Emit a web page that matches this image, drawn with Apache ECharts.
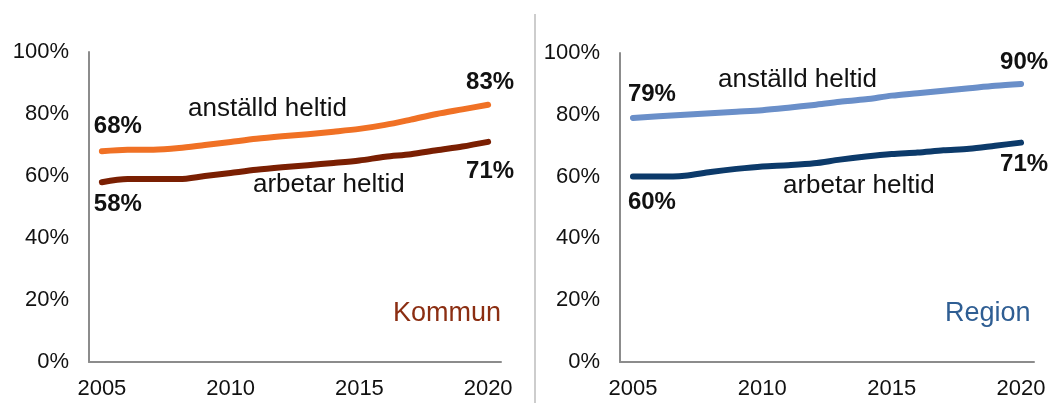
<!DOCTYPE html>
<html>
<head>
<meta charset="utf-8">
<script src="https://cdn.jsdelivr.net/npm/echarts@6/dist/echarts.min.js"></script>
<style>
  html, body { margin: 0; padding: 0; background: #fff; }
  #chart { width: 1058px; height: 403px; }
</style>
</head>
<body>
<div id="chart"></div>
<script>
// Years on the x axis
const years = ['2005','2006','2007','2008','2009','2010','2011','2012','2013','2014','2015','2016','2017','2018','2019','2020'];

// Kommun: share employed full time / working full time (%)
const kommunAnstalld = [68, 68.5, 68.5, 69, 70, 71, 72, 72.8, 73.5, 74.3, 75.2, 76.5, 78.2, 80, 81.5, 83];
const kommunArbetar  = [58, 59, 59, 59, 60, 61, 62, 62.8, 63.5, 64.2, 65, 66.2, 67, 68.3, 69.5, 71];

// Region: share employed full time / working full time (%)
const regionAnstalld = [79, 79.5, 80, 80.5, 81, 81.5, 82.3, 83.2, 84.2, 85, 86.2, 87, 87.8, 88.6, 89.4, 90];
const regionArbetar  = [60, 60, 60.3, 61.5, 62.5, 63.3, 63.7, 64.3, 65.5, 66.5, 67.3, 67.8, 68.5, 69, 70, 71];

const FONT = '"Liberation Sans", Arial, sans-serif';

// Label only the first and last point of a series, each with its own offset
function withEndLabels(values, firstOffset, lastOffset) {
  return values.map((v, i) => {
    if (i === 0 || i === values.length - 1) {
      return {
        value: v,
        label: {
          show: true,
          position: 'inside',
          offset: i === 0 ? firstOffset : lastOffset,
          formatter: p => Math.round(p.value) + '%',
          color: '#111',
          fontSize: 24,
          fontWeight: 'bold',
          fontFamily: FONT
        }
      };
    }
    return v;
  });
}

function lineSeries(idx, values, color, firstOffset, lastOffset) {
  return {
    type: 'line',
    xAxisIndex: idx,
    yAxisIndex: idx,
    data: withEndLabels(values, firstOffset, lastOffset),
    smooth: 0.3,
    symbol: 'circle',
    symbolSize: 0,
    showSymbol: true,
    itemStyle: { color: color },
    lineStyle: { color: color, width: 6, cap: 'round', join: 'round' },
    emphasis: { disabled: true },
    silent: true,
    animation: false,
    z: 3
  };
}

function xAxis(idx) {
  return {
    type: 'category',
    gridIndex: idx,
    data: years,
    boundaryGap: true,
    axisLine: { show: true, lineStyle: { color: '#8c8c8c', width: 2 } },
    axisTick: { show: false },
    axisLabel: {
      interval: 4,
      color: '#111',
      fontSize: 22,
      fontFamily: FONT,
      margin: 16
    },
    splitLine: { show: false }
  };
}

function yAxis(idx) {
  return {
    type: 'value',
    gridIndex: idx,
    min: 0,
    max: 100,
    interval: 20,
    axisLine: { show: true, lineStyle: { color: '#8c8c8c', width: 2 } },
    axisTick: { show: false },
    axisLabel: {
      formatter: '{value}%',
      color: '#111',
      fontSize: 22,
      fontFamily: FONT,
      margin: 20
    },
    splitLine: { show: false }
  };
}

const chart = echarts.init(document.getElementById('chart'), null, { renderer: 'canvas' });

chart.setOption({
  backgroundColor: '#ffffff',
  animation: false,
  grid: [
    { left: 89, right: 557, top: 52, bottom: 41 },
    { left: 620, right: 24, top: 53, bottom: 41 }
  ],
  xAxis: [xAxis(0), xAxis(1)],
  yAxis: [yAxis(0), yAxis(1)],
  series: [
    lineSeries(0, kommunAnstalld, '#f07125', [16, -25], [2, -22]),
    lineSeries(0, kommunArbetar, '#7a1f02', [16, 22], [2, 29]),
    lineSeries(1, regionAnstalld, '#6a8fc9', [19, -24], [3, -22]),
    lineSeries(1, regionArbetar, '#0c3a6a', [19, 26], [3, 22])
  ],
  graphic: [
    // divider between the two panels
    { type: 'line', shape: { x1: 535, y1: 14, x2: 535, y2: 403 },
      style: { stroke: '#bdbdbd', lineWidth: 1.5 }, silent: true },
    // series names
    { type: 'text', left: 188, top: 96,
      style: { text: 'anställd heltid', fill: '#111', font: '26px ' + FONT } },
    { type: 'text', left: 253, top: 172,
      style: { text: 'arbetar heltid', fill: '#111', font: '26px ' + FONT } },
    { type: 'text', left: 718, top: 67,
      style: { text: 'anställd heltid', fill: '#111', font: '26px ' + FONT } },
    { type: 'text', left: 783, top: 173,
      style: { text: 'arbetar heltid', fill: '#111', font: '26px ' + FONT } },
    // panel titles
    { type: 'text', left: 393, top: 300,
      style: { text: 'Kommun', fill: '#8b2e12', font: '27px ' + FONT } },
    { type: 'text', left: 945, top: 300,
      style: { text: 'Region', fill: '#2f5e93', font: '27px ' + FONT } }
  ]
});
</script>
</body>
</html>
